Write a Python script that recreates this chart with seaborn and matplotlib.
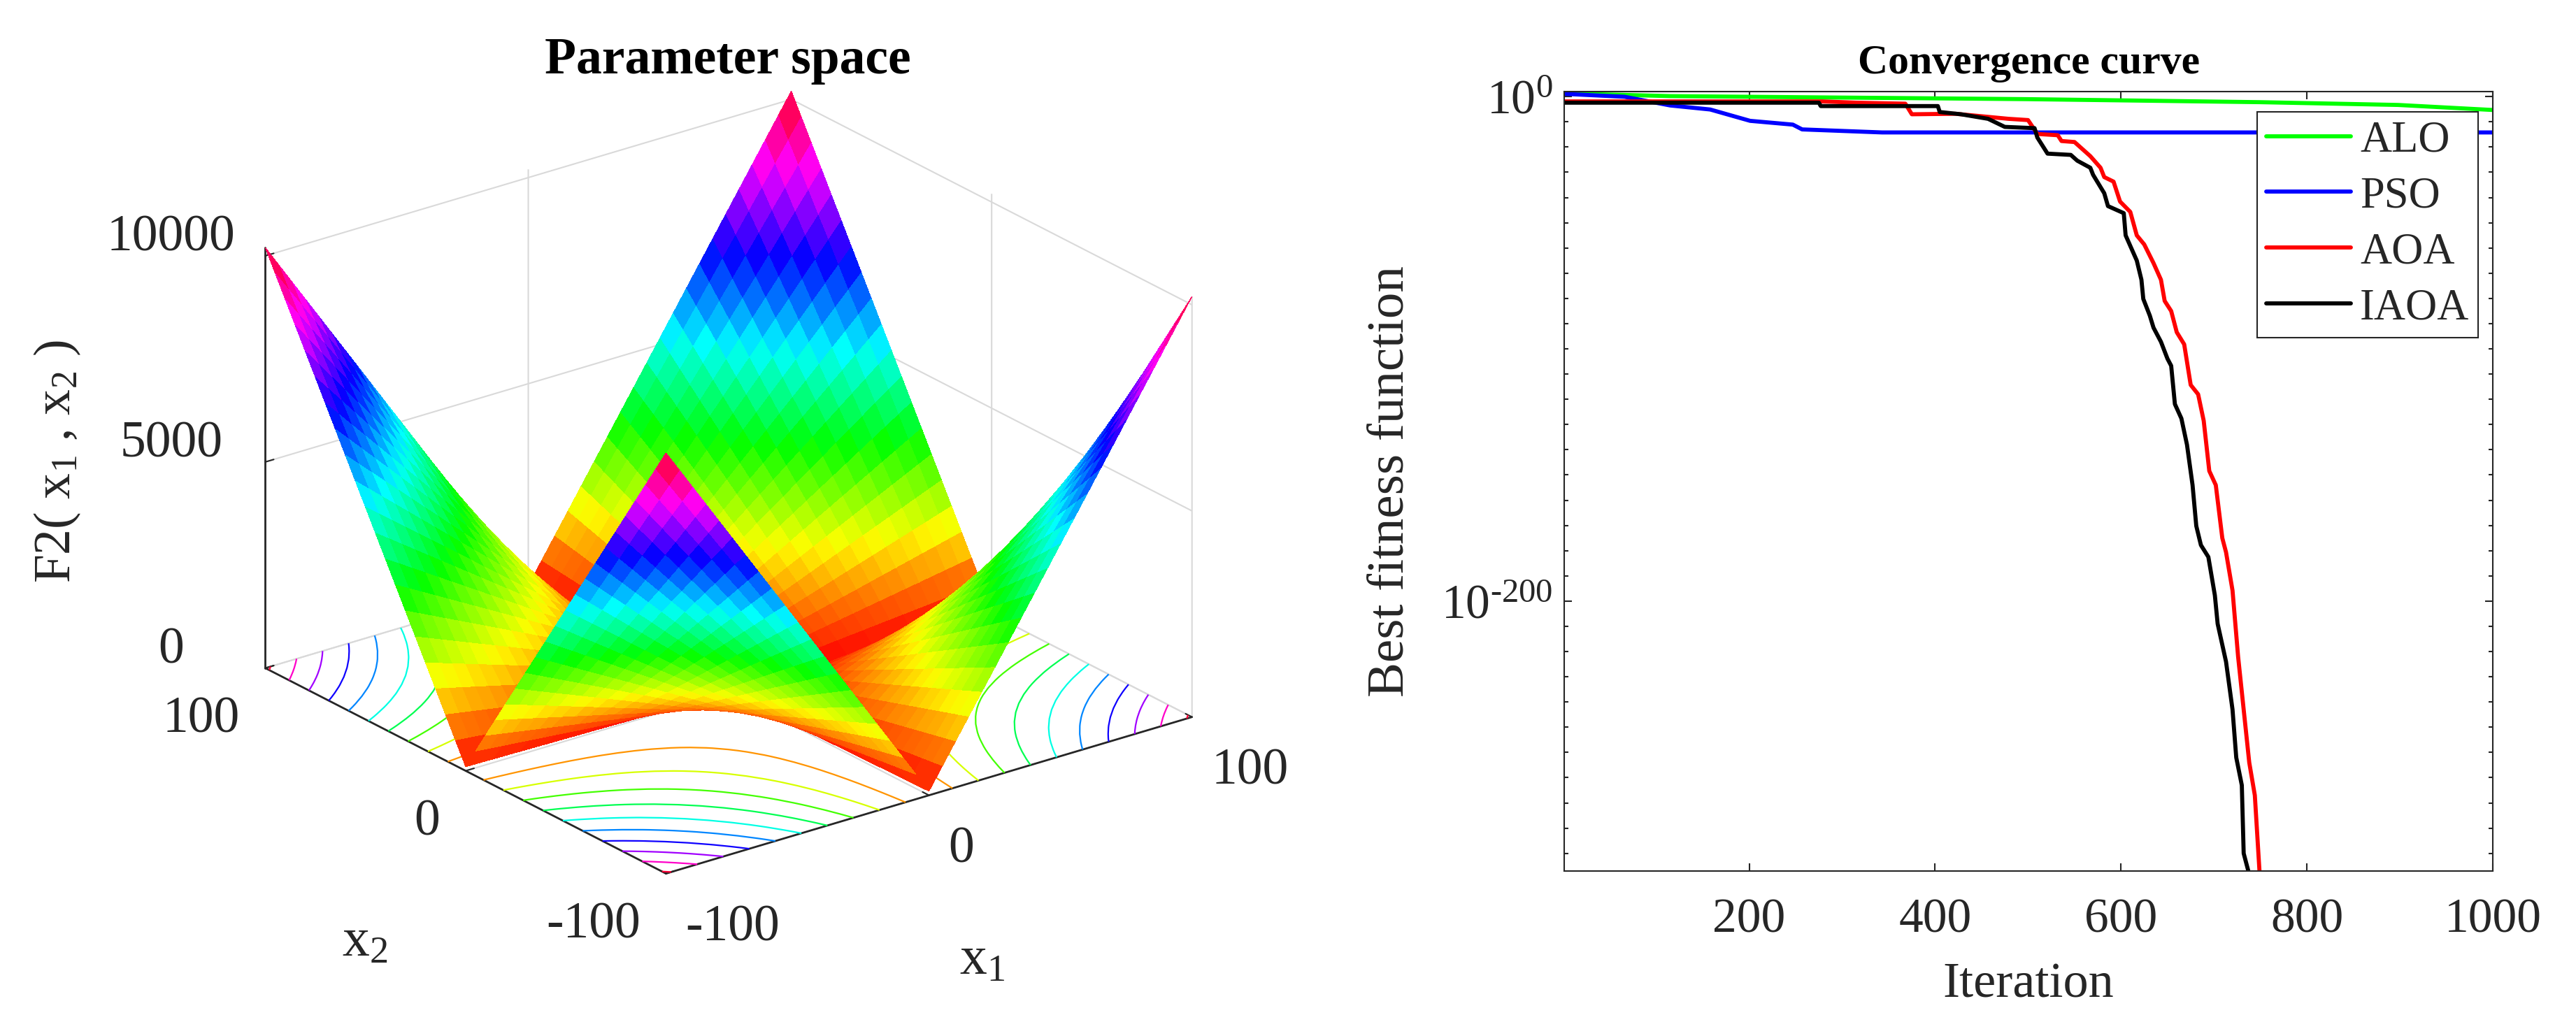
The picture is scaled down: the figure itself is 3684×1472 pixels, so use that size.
import numpy as np
import matplotlib
matplotlib.use("Agg")
import matplotlib.pyplot as plt
from matplotlib.ticker import NullFormatter
import seaborn as sns

# surface heights read for one quadrant, x1 and x2 = 0, 5, ... 100; the other three mirror it
x_half = [0, 5, 10, 15, 20, 25, 30, 35, 40, 45, 50, 55, 60, 65, 70, 75, 80, 85, 90, 95, 100]
z_quadrant = [
    [0, 5, 10, 15, 20, 25, 30, 35, 40, 45, 50, 55, 60, 65, 70, 75, 80, 85, 90, 95, 100],
    [5, 35, 65, 95, 125, 155, 185, 215, 245, 275, 305, 335, 365, 395, 425, 455, 485, 515, 545, 575, 605],
    [10, 65, 120, 175, 230, 285, 340, 395, 450, 505, 560, 615, 670, 725, 780, 835, 890, 945, 1000, 1055, 1110],
    [15, 95, 175, 255, 335, 415, 495, 575, 655, 735, 815, 895, 975, 1055, 1135, 1215, 1295, 1375, 1455, 1535, 1615],
    [20, 125, 230, 335, 440, 545, 650, 755, 860, 965, 1070, 1175, 1280, 1385, 1490, 1595, 1700, 1805, 1910, 2015, 2120],
    [25, 155, 285, 415, 545, 675, 805, 935, 1065, 1195, 1325, 1455, 1585, 1715, 1845, 1975, 2105, 2235, 2365, 2495, 2625],
    [30, 185, 340, 495, 650, 805, 960, 1115, 1270, 1425, 1580, 1735, 1890, 2045, 2200, 2355, 2510, 2665, 2820, 2975, 3130],
    [35, 215, 395, 575, 755, 935, 1115, 1295, 1475, 1655, 1835, 2015, 2195, 2375, 2555, 2735, 2915, 3095, 3275, 3455, 3635],
    [40, 245, 450, 655, 860, 1065, 1270, 1475, 1680, 1885, 2090, 2295, 2500, 2705, 2910, 3115, 3320, 3525, 3730, 3935, 4140],
    [45, 275, 505, 735, 965, 1195, 1425, 1655, 1885, 2115, 2345, 2575, 2805, 3035, 3265, 3495, 3725, 3955, 4185, 4415, 4645],
    [50, 305, 560, 815, 1070, 1325, 1580, 1835, 2090, 2345, 2600, 2855, 3110, 3365, 3620, 3875, 4130, 4385, 4640, 4895, 5150],
    [55, 335, 615, 895, 1175, 1455, 1735, 2015, 2295, 2575, 2855, 3135, 3415, 3695, 3975, 4255, 4535, 4815, 5095, 5375, 5655],
    [60, 365, 670, 975, 1280, 1585, 1890, 2195, 2500, 2805, 3110, 3415, 3720, 4025, 4330, 4635, 4940, 5245, 5550, 5855, 6160],
    [65, 395, 725, 1055, 1385, 1715, 2045, 2375, 2705, 3035, 3365, 3695, 4025, 4355, 4685, 5015, 5345, 5675, 6005, 6335, 6665],
    [70, 425, 780, 1135, 1490, 1845, 2200, 2555, 2910, 3265, 3620, 3975, 4330, 4685, 5040, 5395, 5750, 6105, 6460, 6815, 7170],
    [75, 455, 835, 1215, 1595, 1975, 2355, 2735, 3115, 3495, 3875, 4255, 4635, 5015, 5395, 5775, 6155, 6535, 6915, 7295, 7675],
    [80, 485, 890, 1295, 1700, 2105, 2510, 2915, 3320, 3725, 4130, 4535, 4940, 5345, 5750, 6155, 6560, 6965, 7370, 7775, 8180],
    [85, 515, 945, 1375, 1805, 2235, 2665, 3095, 3525, 3955, 4385, 4815, 5245, 5675, 6105, 6535, 6965, 7395, 7825, 8255, 8685],
    [90, 545, 1000, 1455, 1910, 2365, 2820, 3275, 3730, 4185, 4640, 5095, 5550, 6005, 6460, 6915, 7370, 7825, 8280, 8735, 9190],
    [95, 575, 1055, 1535, 2015, 2495, 2975, 3455, 3935, 4415, 4895, 5375, 5855, 6335, 6815, 7295, 7775, 8255, 8735, 9215, 9695],
    [100, 605, 1110, 1615, 2120, 2625, 3130, 3635, 4140, 4645, 5150, 5655, 6160, 6665, 7170, 7675, 8180, 8685, 9190, 9695, 10200],
]
contour_levels = [1000, 2000, 3000, 4000, 5000, 6000, 7000, 8000, 9000, 10000]

# convergence curves, best fitness as log10
alo_iter = [1, 115, 499, 749, 898, 1000]
alo_log = [1.3, 0.2, -1, -2.2, -3.3, -5.3]
pso_iter = [1, 66, 115, 158, 201, 247, 257, 343, 1000]
pso_log = [1.1, -0.06, -3.5, -5.1, -9.6, -11.1, -13, -14.2, -14.2]
aoa_iter = [1, 279, 315, 368, 375, 422, 479, 500, 510, 532, 536, 550, 567, 578, 582, 592, 599, 610, 617, 625, 635, 643,
            647, 654, 660, 668, 675, 683, 689, 695, 702, 709, 713, 720, 726, 732, 738, 744, 749]
aoa_log = [-1.9, -1.9, -2.4, -2.8, -7, -6.8, -8.8, -9.3, -14.8, -15.3, -17.6, -18, -23.6, -28.2, -31.9, -33.7, -41.6,
           -45.7, -55, -58.6, -66, -72.6, -81, -85, -93.4, -98.2, -114.3, -118, -128.5, -148.4, -154, -175, -180.6,
           -195.8, -222, -243, -264, -277, -307]
iaoa_iter = [1, 275, 277, 403, 405, 428, 457, 475, 507, 510, 521, 546, 553, 567, 570, 582, 586, 603, 605, 617, 622,
             624, 631, 635, 643, 650, 654, 658, 665, 671, 677, 681, 686, 694, 701, 704, 713, 720, 724, 730, 732, 737]
iaoa_log = [-2.4, -2.4, -3.75, -3.75, -6.1, -7, -8.8, -12, -12.5, -16.2, -22.6, -23.1, -25.4, -28.2, -31, -38.3, -43.4,
            -46.2, -55, -65, -72.6, -80.2, -86.8, -91.6, -97.2, -103.9, -106.7, -121.9, -127.6, -138, -154, -170.2,
            -177.8, -182.5, -197.7, -209, -224, -243, -262, -273, -300, -307]

series = [("ALO", alo_iter, alo_log, "#00ff00"), ("PSO", pso_iter, pso_log, "#0000ff"),
          ("AOA", aoa_iter, aoa_log, "#ff0000"), ("IAOA", iaoa_iter, iaoa_log, "#000000")]

x1_ticks = [-100, 0, 100]
x2_ticks = [-100, 0, 100]
x_tick_labels = ["-100", "0", "100"]
z_ticks = [0, 5000, 10000]
z_tick_labels = ["0", "5000", "10000"]
iter_ticks = [200, 400, 600, 800, 1000]
minor_exp = range(-300, 1, 10)

sns.set_theme(style="ticks")
plt.rcParams["font.family"] = ["Liberation Serif", "DejaVu Serif"]
plt.rcParams["mathtext.fontset"] = "custom"
plt.rcParams["mathtext.rm"] = "Liberation Serif"
plt.rcParams["mathtext.it"] = "Liberation Serif"
plt.rcParams["mathtext.default"] = "regular"
text_col = "#262626"

W, H = 3684, 1472
fig = plt.figure(figsize=(W / 100, H / 100), dpi=100, facecolor="white")

# left: surface with contours on the floor
ax = fig.add_axes([261 / W, 1 / H, 1521 / W, 1521 / H], projection="3d")
half = np.array(z_quadrant, dtype=float)
row = np.hstack([half[:, :0:-1], half])
Z = np.vstack([row[:0:-1], row])
axis_vals = np.array([-v for v in x_half[:0:-1]] + x_half, dtype=float)
X, Y = np.meshgrid(axis_vals, axis_vals)

ax.set_proj_type("ortho")
ax.view_init(elev=23, azim=-127.3)
ax.set_box_aspect((1, 1, 0.691), zoom=0.95)
ax.contour(X, Y, Z, levels=contour_levels, zdir="z", offset=0, cmap="hsv", vmin=0, vmax=10200, linewidths=1.6)
ax.plot_surface(X, Y, Z, cmap="hsv", vmin=0, vmax=10200, rstride=1, cstride=1, linewidth=0,
                antialiased=False, shade=False)
ax.set_xlim(-100, 100)
ax.set_ylim(-100, 100)
ax.set_zlim(0, 10200)
ax.set_xticks(x1_ticks)
ax.set_xticklabels(x_tick_labels, ha="left")
ax.set_yticks(x2_ticks)
ax.set_yticklabels(x_tick_labels, ha="right")
ax.set_zticks(z_ticks)
ax.set_zticklabels(z_tick_labels, va="baseline")
ax.tick_params(axis="both", labelsize=53, colors=text_col)
ax.tick_params(axis="x", pad=20)
ax.tick_params(axis="y", pad=20)
ax.tick_params(axis="z", pad=50)
for a in (ax.xaxis, ax.yaxis, ax.zaxis):
    a.set_pane_color((1, 1, 1, 0))
    a.pane.set_edgecolor("#d9d9d9")
    a._axinfo["grid"].update(color="#d9d9d9", linewidth=1.5)
    a._axinfo["tick"].update(inward_factor=0, outward_factor=0.2, linewidth={True: 1.5, False: 1.5}, color=text_col)
    a.line.set_color(text_col)
    a.line.set_linewidth(2)
ax.text2D(1405 / W, 1 - 1374 / H, "x$_1$", transform=fig.transFigure, fontsize=56, color=text_col,
          ha="center", va="center")
ax.text2D(522 / W, 1 - 1348 / H, "x$_2$", transform=fig.transFigure, fontsize=56, color=text_col,
          ha="center", va="center")
ax.text2D(82 / W, 1 - 660 / H, "F2( x$_1$ , x$_2$ )", transform=fig.transFigure, fontsize=53, color=text_col,
          ha="center", va="center", rotation=90)
ax.set_title("Parameter space", fontsize=53, fontweight="bold", color="black", x=0.513, y=0.989, va="center", pad=0)

# right: convergence curves
ax2 = fig.add_axes([2237 / W, (H - 1246) / H, 1328 / W, (1246 - 131) / H])
for name, it, lg, col in series:
    sns.lineplot(x=it, y=10.0 ** np.array(lg, dtype=float), ax=ax2, color=col, label=name, linewidth=4.2,
                 estimator=None, sort=False)
ax2.set_yscale("log")
ax2.set_xlim(1, 1000)
ax2.set_ylim(1e-307, 1e2)
ax2.set_xticks(iter_ticks)
ax2.set_yticks([1.0, 1e-200], ["$10^{0}$", r"$10^{\text{-}200}$"])
ax2.set_yticks([10.0 ** e for e in minor_exp], minor=True)
ax2.yaxis.set_minor_formatter(NullFormatter())
ax2.tick_params(axis="both", which="major", direction="in", length=8, width=1.5, labelsize=50,
                colors=text_col, top=True, right=True)
ax2.tick_params(axis="x", which="major", pad=28)
ax2.tick_params(axis="y", which="major", pad=12)
ax2.tick_params(axis="y", which="minor", direction="in", length=4, width=1.5, right=True, left=True, colors=text_col)
for s in ax2.spines.values():
    s.set_visible(True)
    s.set_linewidth(1.5)
    s.set_color(text_col)
ax2.set_xlabel("Iteration", fontsize=52, color=text_col, labelpad=20)
ax2.set_ylabel("Best fitness function", fontsize=54, color=text_col, labelpad=28)
ax2.set_title("Convergence curve", fontsize=43, fontweight="bold", color="black", pad=19)
leg = ax2.legend(loc="upper right", bbox_to_anchor=(0.984, 0.974), fontsize=45, frameon=True, fancybox=False,
                 framealpha=1, edgecolor=text_col, borderpad=0.2, labelspacing=0.35, handlelength=1.95,
                 handletextpad=0.2, borderaxespad=0)
leg.get_frame().set_linewidth(1.5)
for t in leg.get_texts():
    t.set_color(text_col)

fig.savefig("out.png", dpi=100, facecolor="white")
